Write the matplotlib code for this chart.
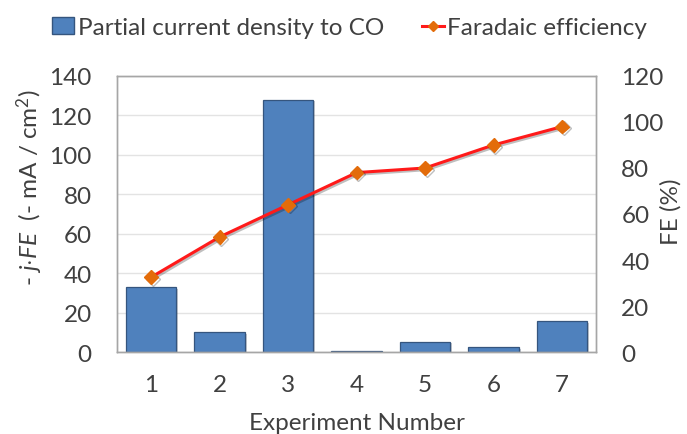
import matplotlib.pyplot as plt
import matplotlib.patheffects as pe
from matplotlib.lines import Line2D
from matplotlib.patches import Patch

# Experiment data
experiments = ["1", "2", "3", "4", "5", "6", "7"]
partial_current = [33, 10, 128, 0.5, 5.3, 2.5, 15.5]
faradaic_eff = [32.5, 50, 64, 78, 80, 90, 98]

plt.rcParams["font.family"] = ["Lato", "DejaVu Sans"]
plt.rcParams["mathtext.fontset"] = "custom"
plt.rcParams["mathtext.it"] = "Lato:italic"
plt.rcParams["mathtext.rm"] = "Lato"

text_color = "#404040"
frame_color = "#a6a6a6"
fs = 17.5

fig = plt.figure(figsize=(6.87, 4.35), dpi=100)
ax = fig.add_axes([0.170, 0.1885, 0.698, 0.6345])
x = list(range(len(experiments)))

ax.bar(x, partial_current, width=0.74, color="#4f81bd", edgecolor="#35557e",
       linewidth=0.9, zorder=2,
       path_effects=[pe.SimplePatchShadow(offset=(1.2, -1.2), alpha=0.25), pe.Normal()])
ax.set_ylim(0, 140)
ax.set_yticks(range(0, 141, 20))
ax.set_xlim(-0.5, len(experiments) - 0.5)
ax.set_xticks(x)
ax.set_xticklabels(experiments)
ax.yaxis.grid(True, color="#e3e3e3", linewidth=1.0, zorder=0)
ax.set_axisbelow(True)

ax2 = ax.twinx()
ax2.plot(x, faradaic_eff, color="#ff1a1a", linewidth=2.2, marker="D",
         markersize=7, markerfacecolor="#e36c0a", markeredgecolor="#e36c0a", zorder=3,
         path_effects=[pe.SimpleLineShadow(offset=(1.2, -1.2), alpha=0.25), pe.Normal()])
ax2.set_ylim(0, 120)
ax2.set_yticks(range(0, 121, 20))

for a in (ax, ax2):
    for s in a.spines.values():
        s.set_color(frame_color)
        s.set_linewidth(1.0)
    a.tick_params(length=0, labelsize=fs, colors=text_color, pad=18)

ax.tick_params(axis="x", pad=16)
ax.set_xlabel("Experiment Number", fontsize=fs, color=text_color, va="center")
ax.xaxis.set_label_coords(0.5, -0.255)
ax.set_ylabel(r"- $j{\cdot}FE$  (- mA / cm$^2$)", fontsize=fs, color=text_color, va="center")
ax.yaxis.set_label_coords(-0.182, 0.598)
ax2.set_ylabel("FE (%)", fontsize=fs, color=text_color, va="center")
ax2.yaxis.set_label_coords(1.156, 0.513)

handles = [
    Patch(facecolor="#4f81bd", edgecolor="#35557e", label="Partial current density to CO"),
    Line2D([0], [0], color="#ff1a1a", linewidth=2.2, marker="D", markersize=5,
           markerfacecolor="#e36c0a", markeredgecolor="#e36c0a", label="Faradaic efficiency"),
]
fig.legend(handles=handles, loc="center", bbox_to_anchor=(0.509, 0.934), ncol=2,
           frameon=False, fontsize=fs, labelcolor=text_color, handlelength=0.9,
           handletextpad=0.15, columnspacing=1.55, handleheight=0.7,
           borderpad=0, borderaxespad=0)

fig.savefig("out.png", dpi=100)
